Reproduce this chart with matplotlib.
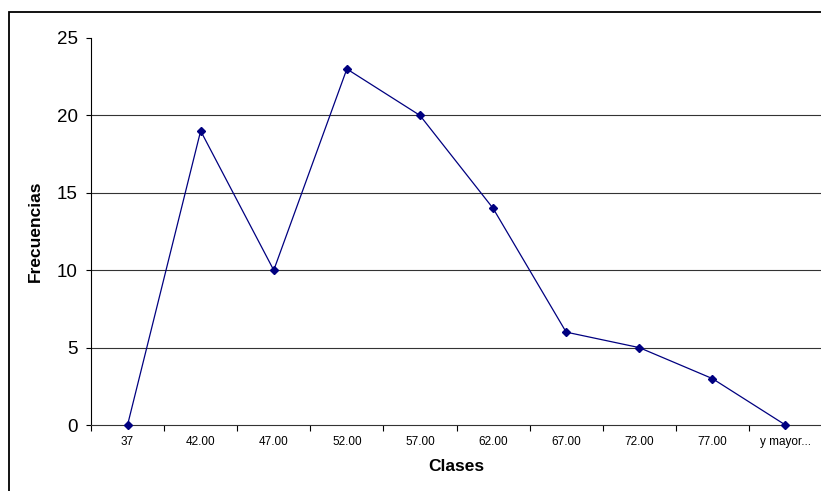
import numpy as np
import matplotlib.pyplot as plt
from matplotlib.patches import Rectangle
from matplotlib.ticker import FixedLocator, NullFormatter

plt.rcParams['font.family'] = ['Liberation Sans', 'DejaVu Sans']

clases = ["37", "42.00", "47.00", "52.00", "57.00", "62.00", "67.00", "72.00", "77.00", "y mayor..."]
frecuencias = [0, 19, 10, 23, 20, 14, 6, 5, 3, 0]
y_ticks = [0, 5, 10, 15, 20, 25]

W, H = 821, 491
fig = plt.figure(figsize=(W / 100, H / 100), dpi=100)

# outer chart frame (cut off at right and bottom, like the source)
fig.patches.append(Rectangle((9 / W, -0.1), 1.2, 1 - 11.5 / H + 0.1,
                             transform=fig.transFigure, fill=False,
                             edgecolor="black", lw=1.3))

left, right, top, bottom = 91, 822, 38, 425
ax = fig.add_axes([left / W, 1 - bottom / H, (right - left) / W, (bottom - top) / H])

x = np.arange(len(clases))
ax.plot(x, frecuencias, color="#000080", lw=0.9, marker="D", markersize=4,
        markerfacecolor="#000080", markeredgecolor="#000080", clip_on=False, zorder=3)

for v in [5, 10, 15, 20]:
    ax.axhline(v, color="#333333", lw=0.8, zorder=1)

ax.set_xlim(-0.5, len(clases) - 0.5)
ax.set_ylim(0, 25)
ax.set_yticks(y_ticks)
ax.tick_params(axis="y", labelsize=13.5, length=3.6, width=0.8, pad=6, direction="out")

ax.set_xticks(x)
ax.set_xticklabels(clases, fontsize=8.5)
ax.tick_params(axis="x", which="major", length=0, pad=8)
ax.xaxis.set_minor_locator(FixedLocator(np.arange(-0.5, len(clases), 1)))
ax.xaxis.set_minor_formatter(NullFormatter())
ax.tick_params(axis="x", which="minor", length=4, width=0.8, direction="out")

for s in ["top", "right"]:
    ax.spines[s].set_visible(False)
ax.spines["left"].set_linewidth(0.8)
ax.spines["bottom"].set_linewidth(0.8)
ax.spines["bottom"].set_color("#333333")

ax.set_ylabel("Frecuencias", fontsize=12.5, fontweight="bold", labelpad=10)
ax.set_xlabel("Clases", fontsize=12.5, fontweight="bold", labelpad=8)

fig.savefig("out.png", dpi=100)
